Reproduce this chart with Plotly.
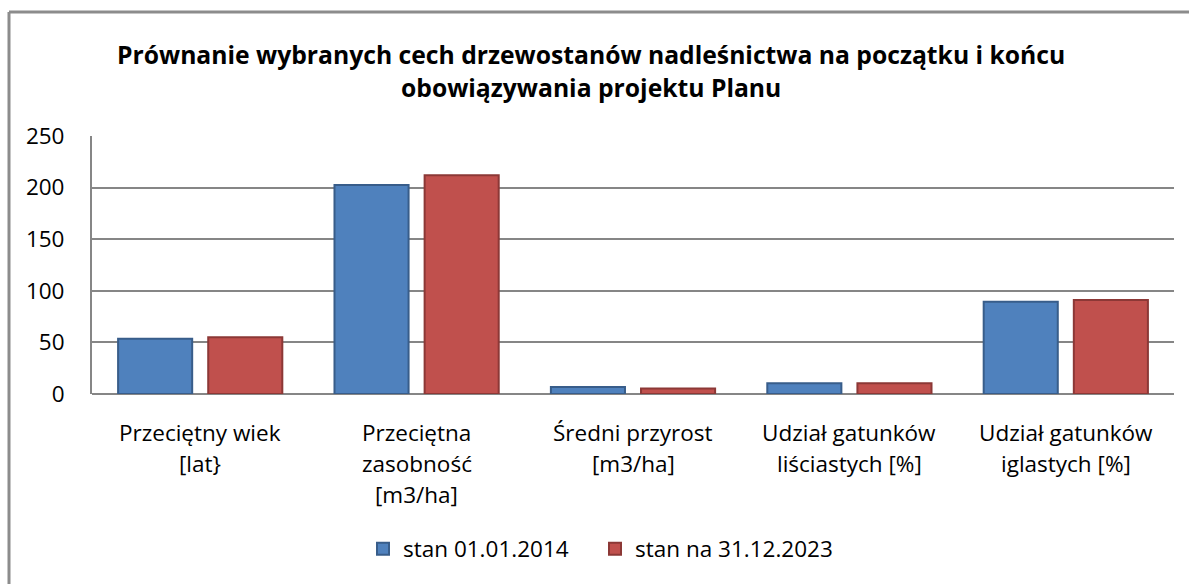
import plotly.graph_objects as go

# Category labels (each entry is a list of text lines) and series values
category_lines = [
    ["Przeciętny wiek", "[lat}"],
    ["Przeciętna", "zasobność", "[m3/ha]"],
    ["Średni przyrost", "[m3/ha]"],
    ["Udział gatunków", "liściastych [%]"],
    ["Udział gatunków", "iglastych [%]"],
]
categories = [" ".join(lines) for lines in category_lines]

series_2014 = [53.5, 202.5, 6.8, 10.4, 89.5]
series_2023 = [55.0, 212.0, 5.3, 10.4, 91.0]

series_names = ["stan 01.01.2014", "stan na 31.12.2023"]
y_ticks = [0, 50, 100, 150, 200, 250]

title_lines = [
    "Prównanie wybranych cech drzewostanów nadleśnictwa na początku i końcu",
    "obowiązywania projektu Planu",
]

W, H = 1189, 584
FONT = "Open Sans"
TEXT_SIZE = 22.5
GRID = "#868686"
FRAME = "#8c8c8c"


def py(px_from_top):
    """Convert a pixel row (from the top) to paper y."""
    return 1 - px_from_top / H


fig = go.Figure()
fig.add_trace(go.Bar(
    x=categories, y=series_2014, name=series_names[0], legend="legend",
    marker=dict(color="#4F81BD", line=dict(color="#385D8A", width=2)),
))
fig.add_trace(go.Bar(
    x=categories, y=series_2023, name=series_names[1], legend="legend2",
    marker=dict(color="#C0504D", line=dict(color="#8C3836", width=2)),
))

annotations = []
# Title, one annotation per line
for i, line in enumerate(title_lines):
    annotations.append(dict(
        text=f"<b>{line}</b>", xref="paper", yref="paper",
        x=591 / W, y=py(55 + 33 * i), xanchor="center", yanchor="middle",
        showarrow=False, font=dict(family=FONT, size=24.7, color="black"),
    ))
# Category labels under the axis, one annotation per line
for cat, lines in zip(categories, category_lines):
    for j, line in enumerate(lines):
        annotations.append(dict(
            text=line, xref="x", yref="paper", x=cat,
            y=py(432 + 31 * j), xanchor="center", yanchor="middle",
            showarrow=False, font=dict(family=FONT, size=TEXT_SIZE, color="black"),
        ))

# Chart frame: only its top and left edges fall inside the page
frame = [
    dict(type="line", xref="paper", yref="paper",
         x0=9 / W, x1=1.0, y0=py(12), y1=py(12),
         line=dict(color=FRAME, width=3)),
    dict(type="line", xref="paper", yref="paper",
         x0=9 / W, x1=9 / W, y0=0.0, y1=py(12),
         line=dict(color=FRAME, width=3)),
]

legend_style = dict(
    orientation="h", xanchor="left", y=py(549), yanchor="middle",
    font=dict(family=FONT, size=TEXT_SIZE, color="black"),
)

fig.update_layout(
    width=W, height=H, autosize=False,
    margin=dict(l=0, r=0, t=0, b=0, autoexpand=False),
    paper_bgcolor="white", plot_bgcolor="white",
    font=dict(family=FONT, size=TEXT_SIZE, color="black"),
    bargap=0.167, bargroupgap=0.178,
    showlegend=True,
    legend=dict(x=(381 - 18) / W, **legend_style),
    legend2=dict(x=(613 - 18) / W, **legend_style),
    xaxis=dict(
        domain=[92 / W, 1174 / W], showticklabels=False,
        showline=False, showgrid=False, zeroline=False, automargin=False,
    ),
    yaxis=dict(
        domain=[py(394), py(136)], range=[0, 250], automargin=False,
        tickvals=y_ticks, ticktext=[str(v) for v in y_ticks],
        showgrid=True, gridcolor=GRID, gridwidth=2,
        zeroline=True, zerolinecolor=GRID, zerolinewidth=2,
        showline=True, linecolor=GRID, linewidth=2,
        ticks="", ticklabelstandoff=21,
        tickfont=dict(family=FONT, size=TEXT_SIZE, color="black"),
    ),
    annotations=annotations,
    shapes=frame,
)

fig.write_html("out.html", config={"responsive": False, "displayModeBar": False})
